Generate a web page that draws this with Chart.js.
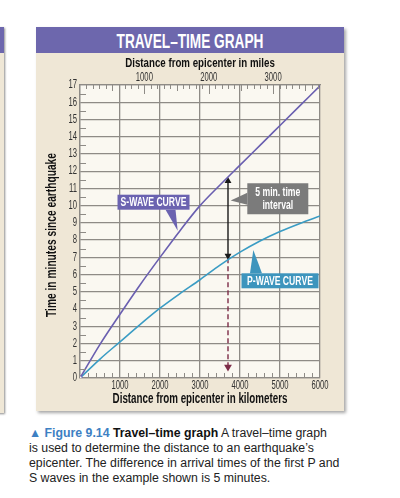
<!DOCTYPE html>
<html>
<head>
<meta charset="utf-8">
<script src="https://cdn.jsdelivr.net/npm/chart.js@4.4.1/dist/chart.umd.min.js"></script>
<style>
  html, body { margin: 0; padding: 0; width: 400px; height: 498px; overflow: hidden; background: #fff; }
  .sliver { position: absolute; left: -300px; top: 27px; width: 304px; height: 386px; background: #efe7d6; box-shadow: 1px 1px 2px rgba(0,0,0,.45); }
  .sliver .hdr { height: 26px; background: #6d67ad; }
  .card { position: absolute; left: 36px; top: 27px; width: 308px; height: 384px; background: #efe7d6; box-shadow: 2px 2px 3px rgba(0,0,0,.35); }
  .card .hdr { height: 26px; background: #6d67ad; text-align: center; overflow: hidden; }
  .card .hdr span { display: inline-block; color: #fff; font: bold 21px/27px 'Liberation Sans', Arial, sans-serif; transform: scaleX(0.65); transform-origin: 50% 50%; white-space: nowrap; }
  #chart { position: absolute; left: 0; top: 26px; }
  .caption { position: absolute; left: 29px; top: 426px; font: 12.3px/15px 'Liberation Sans', Arial, sans-serif; color: #222; white-space: nowrap; }
  .caption .fig { color: #3d80c3; font-weight: bold; }
  .caption b { color: #111; }
</style>
</head>
<body>
<div class="sliver"><div class="hdr"></div></div>
<div class="card">
  <div class="hdr"><span>TRAVEL–TIME GRAPH</span></div>
  <canvas id="chart" width="308" height="358"></canvas>
</div>
<div class="caption"><span class="fig">▲ Figure 9.14</span> <b>Travel–time graph</b> A travel–time graph<br>is used to determine the distance to an earthquake’s<br>epicenter. The difference in arrival times of the first P and<br>S waves in the example shown is 5 minutes.</div>
<script>
// values
const distanceKm = [0, 500, 1000, 1500, 2000, 2500, 3000, 3500, 4000, 4500, 5000, 5500, 6000];
const sWaveMinutes = [0, 1.95, 3.7, 5.4, 7.0, 8.55, 10.0, 11.2, 12.35, 13.5, 14.65, 15.8, 16.95];
const pWaveMinutes = [0, 1.1, 2.1, 3.1, 4.05, 4.9, 5.7, 6.55, 7.3, 7.95, 8.5, 8.97, 9.4];
const kmTicks = [0, 1000, 2000, 3000, 4000, 5000, 6000];
const mileTicks = [1000, 2000, 3000];
const minuteTicks = [0, 1, 2, 3, 4, 5, 6, 7, 8, 9, 10, 11, 12, 13, 14, 15, 16, 17];

// the worked example: 5 minute gap at about 3700 km
const exampleKm = 3700;
const exampleTop = 11.43;    // arrow at S curve
const exampleBottom = 7.1;   // arrow at P curve
const exampleFloor = 0.64;   // dashed arrow down to the axis

const KM_PER_MILE = 1.609344;
const FONT = "'Liberation Sans', Arial, sans-serif";
const GRID = '#8e8b86';

const pts = (ys) => distanceKm.map((x, i) => ({ x, y: ys[i] }));

// the print uses a condensed face, so squeeze a normal one
function squeezed(ctx, text, x, y, opts) {
  ctx.save();
  ctx.translate(x, y);
  if (opts.rotate) ctx.rotate(opts.rotate);
  ctx.scale(opts.sx, 1);
  ctx.font = opts.font;
  ctx.fillStyle = opts.color;
  ctx.textAlign = opts.align || 'center';
  ctx.textBaseline = 'middle';
  ctx.fillText(text, 0, 0);
  ctx.restore();
}

// background, tick marks inside the frame, axis text
const frame = {
  id: 'frame',
  beforeDraw(chart) {
    const { ctx, chartArea: a } = chart;
    ctx.save();
    ctx.fillStyle = '#faf8f1';
    ctx.fillRect(a.left, a.top, a.right - a.left, a.bottom - a.top);
    ctx.restore();
  },
  afterDraw(chart) {
    const { ctx, chartArea: a, scales } = chart;
    ctx.save();
    ctx.strokeStyle = GRID;
    ctx.lineWidth = 1;
    ctx.beginPath();
    for (let m = 100; m < 3728; m += 100) {
      const x = Math.round(scales.miles.getPixelForValue(m)) + 0.5;
      const len = m % 1000 === 0 ? 9 : (m % 500 === 0 ? 6 : 4);
      ctx.moveTo(x, a.top); ctx.lineTo(x, a.top + len);
    }
    for (let k = 200; k < 6000; k += 200) {
      if (k % 1000 === 0) continue;
      const x = Math.round(scales.x.getPixelForValue(k)) + 0.5;
      ctx.moveTo(x, a.bottom); ctx.lineTo(x, a.bottom - 5);
    }
    for (let t = 0.5; t < 17; t += 1) {
      const y = Math.round(scales.y.getPixelForValue(t)) + 0.5;
      ctx.moveTo(a.left, y); ctx.lineTo(a.left + 6, y);
    }
    ctx.stroke();
    ctx.restore();

    const tickOpts = { sx: 0.64, font: '12px ' + FONT, color: '#333' };
    kmTicks.filter(v => v > 0).forEach(v =>
      squeezed(ctx, String(v), scales.x.getPixelForValue(v), a.bottom + 8, tickOpts));
    mileTicks.forEach(v =>
      squeezed(ctx, String(v), scales.miles.getPixelForValue(v), a.top - 7, tickOpts));
    minuteTicks.forEach(v =>
      squeezed(ctx, String(v), a.left - 3, scales.y.getPixelForValue(v),
        Object.assign({ align: 'right' }, tickOpts)));

    const midX = (a.left + a.right) / 2;
    squeezed(ctx, 'Distance from epicenter in miles', midX, a.top - 22,
      { sx: 0.72, font: 'bold 13.5px ' + FONT, color: '#111' });
    squeezed(ctx, 'Distance from epicenter in kilometers', midX, a.bottom + 21,
      { sx: 0.7, font: 'bold 14px ' + FONT, color: '#111' });
    squeezed(ctx, 'Time in minutes since earthquake', a.left - 27.5, (a.top + a.bottom) / 2 + 3.5,
      { sx: 0.73, font: 'bold 14px ' + FONT, color: '#111', rotate: -Math.PI / 2 });
  }
};

// callout boxes with pointers
const callouts = [
  { lines: ['S-WAVE CURVE'], at: [1838, 10.2], w: 72, h: 15, bg: '#6b63b0',
    base: [[12, 7.5], [22, 7.5]], tip: [2442, 8.55] },
  { lines: ['P-WAVE CURVE'], at: [5000, 5.64], w: 77, h: 15, bg: '#3d95bd',
    base: [[-30, -7.5], [-18, -7.5]], tip: [4333, 7.42] },
  { lines: ['5 min. time', 'interval'], at: [4945, 10.4], w: 61, h: 31, bg: '#7b7b7b',
    base: [[-30.5, -6], [-30.5, 6]], tip: [3767, 10.3] }
];

const calloutPlugin = {
  id: 'callouts',
  afterDraw(chart) {
    const { ctx, scales } = chart;
    callouts.forEach(c => {
      const cx = scales.x.getPixelForValue(c.at[0]);
      const cy = scales.y.getPixelForValue(c.at[1]);
      const tx = scales.x.getPixelForValue(c.tip[0]);
      const ty = scales.y.getPixelForValue(c.tip[1]);
      ctx.save();
      ctx.fillStyle = c.bg;
      ctx.beginPath();
      ctx.moveTo(cx + c.base[0][0], cy + c.base[0][1]);
      ctx.lineTo(tx, ty);
      ctx.lineTo(cx + c.base[1][0], cy + c.base[1][1]);
      ctx.closePath();
      ctx.fill();
      ctx.fillRect(cx - c.w / 2, cy - c.h / 2, c.w, c.h);
      ctx.restore();
      const lh = 13;
      c.lines.forEach((t, i) => {
        squeezed(ctx, t, cx, cy + (i - (c.lines.length - 1) / 2) * lh + 0.5,
          { sx: 0.69, font: 'bold 12.5px ' + FONT, color: '#fff' });
      });
    });
  }
};

new Chart(document.getElementById('chart'), {
  type: 'line',
  data: {
    datasets: [
      {
        label: 'S-wave',
        data: pts(sWaveMinutes),
        borderColor: '#6a5fb0',
        borderWidth: 1.6,
        pointRadius: ctx => (ctx.dataIndex === 0 ? 2.2 : 0),
        pointBackgroundColor: '#faf8f1',
        pointBorderColor: '#6a5fb0',
        pointBorderWidth: 1,
        cubicInterpolationMode: 'monotone'
      },
      {
        label: 'P-wave',
        data: pts(pWaveMinutes),
        borderColor: '#3a9cc4',
        borderWidth: 1.6,
        pointRadius: 0,
        cubicInterpolationMode: 'monotone'
      },
      {
        label: 'gap',
        data: [{ x: exampleKm, y: exampleTop }, { x: exampleKm, y: exampleBottom }],
        borderColor: '#1a1a1a',
        backgroundColor: '#1a1a1a',
        borderWidth: 1.4,
        pointStyle: 'triangle',
        pointRadius: 4,
        pointRotation: [0, 180],
        pointBorderWidth: 0
      },
      {
        label: 'distance',
        data: [{ x: exampleKm, y: exampleBottom - 0.15 }, { x: exampleKm, y: exampleFloor }],
        borderColor: '#7d2c48',
        backgroundColor: '#7d2c48',
        borderWidth: 1.4,
        borderDash: [5, 3],
        pointStyle: 'triangle',
        pointRadius: [0, 4.5],
        pointRotation: 180,
        pointBorderWidth: 0
      }
    ]
  },
  options: {
    responsive: false,
    animation: false,
    layout: { padding: { left: 0, right: 24, top: 0, bottom: 0 } },
    plugins: { legend: { display: false }, tooltip: { enabled: false } },
    scales: {
      x: {
        type: 'linear',
        position: 'bottom',
        min: 0,
        max: 6000,
        afterBuildTicks: s => { s.ticks = kmTicks.map(v => ({ value: v })); },
        afterFit: s => { s.height = 33; },
        ticks: { display: false },
        grid: { color: GRID, lineWidth: 1.3, drawTicks: false },
        border: { color: GRID, width: 1.3 }
      },
      miles: {
        type: 'linear',
        position: 'top',
        min: 0,
        max: 6000 / KM_PER_MILE,
        afterBuildTicks: s => { s.ticks = mileTicks.map(v => ({ value: v })); },
        afterFit: s => { s.height = 32; },
        ticks: { display: false },
        grid: { drawOnChartArea: false, drawTicks: false },
        border: { color: GRID, width: 1.3 }
      },
      y: {
        type: 'linear',
        min: 0,
        max: 17,
        afterBuildTicks: s => { s.ticks = minuteTicks.map(v => ({ value: v })); },
        afterFit: s => { s.width = 44; },
        ticks: { display: false },
        grid: { color: GRID, lineWidth: 1.3, drawTicks: false },
        border: { color: GRID, width: 1.3 }
      }
    }
  },
  plugins: [frame, calloutPlugin]
});
</script>
</body>
</html>
